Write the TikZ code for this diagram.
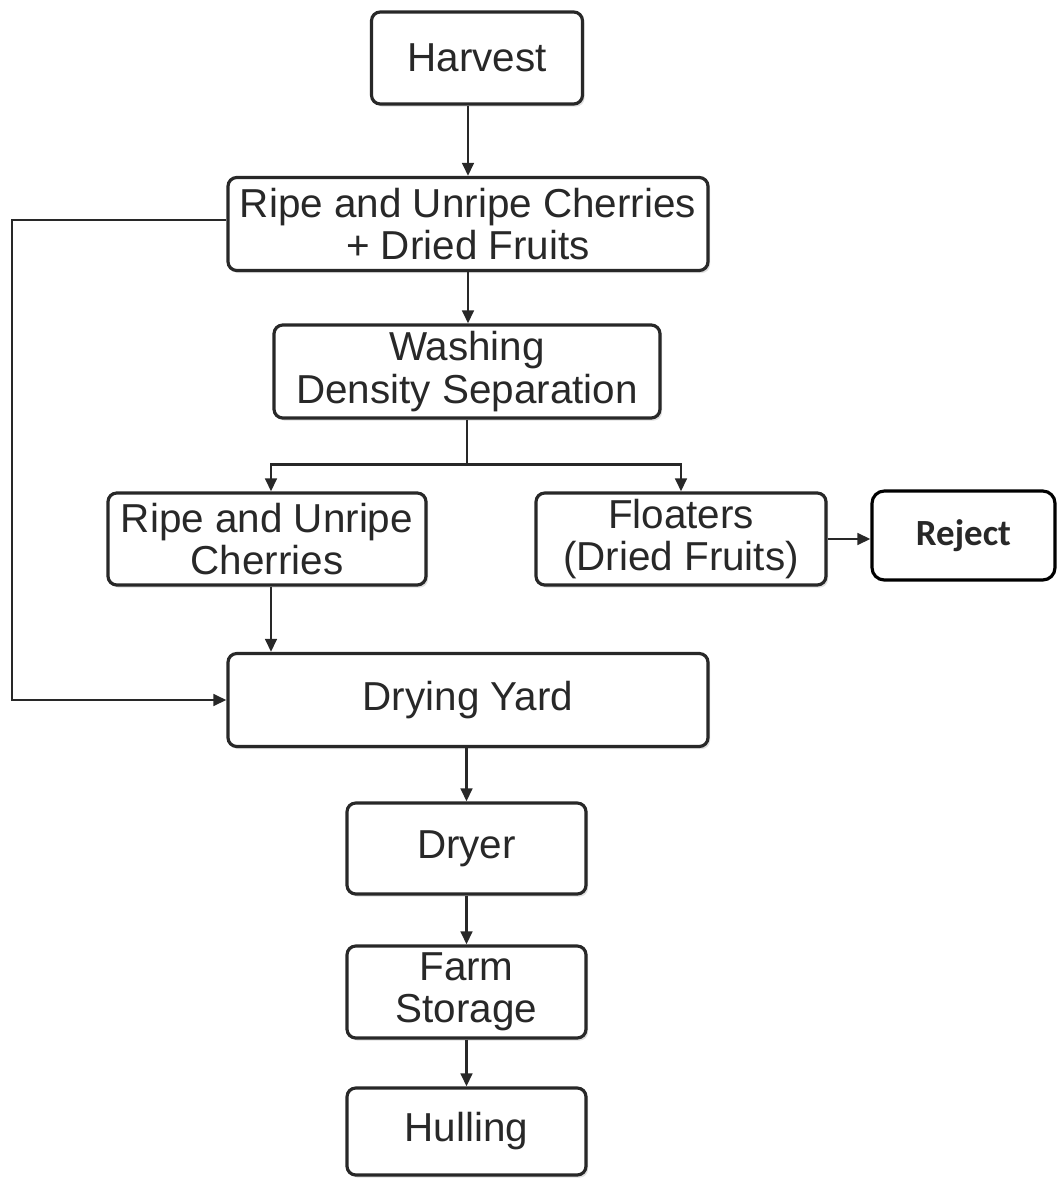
\documentclass[tikz,border=0pt]{standalone}
\usepackage{fontspec}
\setmainfont{Liberation Sans}
\newfontfamily\rejfont{Carlito}
\usetikzlibrary{arrows.meta,positioning,calc,shadows}
\definecolor{ink}{RGB}{40,40,40}
\tikzset{
  >={Triangle[length=2.6mm, width=2.3mm]},
  every node/.style={font=\fontsize{23}{24}\selectfont, text=ink},
  blk/.style={draw=ink, line width=1.8pt, rounded corners=5pt, fill=white, align=center, inner sep=2pt,
    drop shadow={shadow xshift=1.2pt, shadow yshift=-1.5pt, opacity=0.25}},
  rej/.style={draw=black, line width=1.8pt, rounded corners=7pt, fill=white, align=center,
    font=\rejfont\bfseries\fontsize{21}{23}\selectfont},
  ln/.style={->, ink, line width=1.6pt},
}

\begin{document}
\begin{tikzpicture}
\useasboundingbox (0,0) rectangle (21.16,-23.56);

% ---------------------------------------------------------------- main column
\node[blk, minimum width=42.2mm, minimum height=18.4mm] (harv) at (9.54,-1.16) {Harvest};
\node[blk, minimum width=96mm, minimum height=18.6mm] (mix) at (9.36,-4.48) {Ripe and Unripe Cherries\\+ Dried Fruits};
\node[blk, minimum width=77.2mm, minimum height=18.6mm] (wash) at (9.34,-7.43) {Washing\\Density Separation};
\node[blk, minimum width=63.6mm, minimum height=18.4mm] (ripe) at (5.34,-10.78) {Ripe and Unripe\\Cherries};
\node[blk, minimum width=58mm, minimum height=18.4mm] (float) at (13.62,-10.78) {Floaters\\(Dried Fruits)};
\node[rej, minimum width=36.6mm, minimum height=17.8mm] (rej) at (19.27,-10.71) {Reject};
\node[blk, minimum width=96mm, minimum height=18.6mm] (yard) at (9.36,-14.0) {Drying Yard};
\node[blk, minimum width=47.8mm, minimum height=18.2mm] (dryer) at (9.33,-16.97) {Dryer};
\node[blk, minimum width=47.8mm, minimum height=18.4mm] (store) at (9.33,-19.84) {Farm\\Storage};
\node[blk, minimum width=47.8mm, minimum height=17.4mm] (hull) at (9.33,-22.63) {Hulling};

% ---------------------------------------------------------------- connectors
\coordinate (split) at ($(wash.south)+(0,-0.9)$);
\coordinate (loopx) at (0.24,0);

\draw[ln] (harv.south -| mix.north) -- (mix.north);
\draw[ln] (mix.south) -- (mix.south |- wash.north);
\draw[ln, -] (wash.south) -- (split);
\draw[ln] (split) -| ([xshift=0.08cm]ripe.north);
\draw[ln] (split) -| (float.north);
\draw[ln] (float.east) -- (float.east -| rej.west);
\draw[ln] ([xshift=0.08cm]ripe.south) -- ([xshift=0.08cm]ripe.south |- yard.north);
\draw[ln] ([yshift=0.08cm]mix.west) -- ([yshift=0.08cm]mix.west -| loopx) |- (yard.west);
\draw[ln] (yard.south -| dryer.north) -- (dryer.north);
\draw[ln] (dryer.south) -- (store.north);
\draw[ln] (store.south) -- (hull.north);

\end{tikzpicture}
\end{document}
